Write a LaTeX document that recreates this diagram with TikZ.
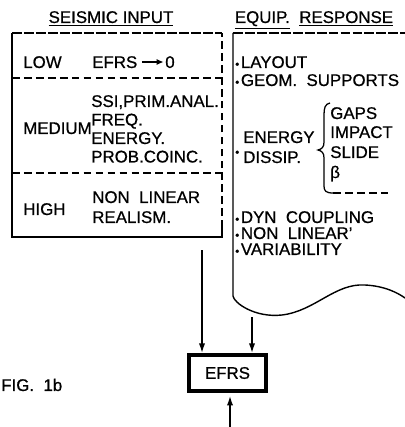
\documentclass[tikz,border=0pt]{standalone}
\usepackage{fontspec}
\setmainfont{Liberation Sans}
\newfontfamily\letterfont{Liberation Sans}[FakeBold=0.7]
\usetikzlibrary{arrows.meta}
\newcommand{\lettering}{\letterfont\fontsize{12}{13.5}\selectfont}
\newcommand{\dotmark}{{\fontsize{8}{8}\selectfont •}\kern1.2pt}
\tikzset{
  txt/.style={font=\lettering, anchor=west, inner sep=0pt, text height=8.5pt, text depth=0pt},
  frame/.style={line width=1pt},
  sep/.style={line width=0.9pt, dash pattern=on 5.5pt off 3pt},
  topline/.style={line width=1pt, dash pattern=on 7pt off 1.5pt},
  feed/.style={line width=1.2pt, -{Latex[length=7pt,width=4.5pt]}},
}
\begin{document}
\begin{tikzpicture}[x=0.025cm, y=-0.025cm]
  \useasboundingbox (0,0) rectangle (405,427);
  % titles
  \node[txt, anchor=center] (tSeis) at (111,17) {\underline{SEISMIC INPUT}};
  \node[txt, anchor=center] (tResp) at (314,17) {\underline{EQUIP.}\ \ \underline{RESPONSE}};
  % seismic input box
  \draw[topline] (12,33) -- (222,33);
  \draw[frame] (12,33) -- (12,237) -- (222,237) -- (222,228);
  \draw[sep] (222,228) -- (222,33);
  \draw[sep] (12,78) -- (222,78);
  \draw[sep] (12,173) -- (222,173);
  \node[txt] (low) at (23,62) {LOW};
  \node[txt] (efrsLow) at (92,62) {EFRS};
  \node[txt] (zero) at (165,62) {0};
  \draw[line width=1pt, -{Latex[length=5pt,width=4.5pt]}] ([xshift=3pt]efrsLow.east) -- ([xshift=-1pt]zero.west);
  \node[txt] (medium) at (23,128) {MEDIUM};
  \node[txt] (m1) at (91,101) {SSI,PRIM.ANAL.};
  \node[txt] (m2) at (91,119.5) {FREQ.};
  \node[txt] (m3) at (91,138) {ENERGY.};
  \node[txt] (m4) at (91,156.5) {PROB.COINC.};
  \node[txt] (high) at (23,209) {HIGH};
  \node[txt] (h1) at (92,197) {NON\ \ LINEAR};
  \node[txt] (h2) at (92,217) {REALISM.};
  % equipment response sheet
  \draw[topline] (233,33) -- (405,33);
  \draw[frame] (233,33) -- (233,296)
    .. controls (234,303) and (255,318) .. (282,315)
    .. controls (315,311) and (335,283) .. (365,285)
    .. controls (385,286) and (398,293) .. (405,298);
  \node[txt] (r1) at (235,62) {\dotmark LAYOUT};
  \node[txt] (r2) at (235,80) {\dotmark GEOM.\ \ SUPPORTS};
  \node[txt] (bEn) at (235,150) {\dotmark};
  \node[txt] (en1) at (243,137) {ENERGY};
  \node[txt] (en2) at (243,157) {DISSIP.};
  \draw[line width=0.9pt] (330,103) .. controls (325,104) and (324,108) .. (324,115) -- (324,142)
    .. controls (324,147) and (322,149) .. (318,150)
    .. controls (322,151) and (324,153) .. (324,158) -- (324,186)
    .. controls (324,191) and (326,193) .. (333,193);
  \draw[sep] (333,193) -- (388,193);
  \node[txt] (g1) at (330,113) {GAPS};
  \node[txt] (g2) at (330,132) {IMPACT};
  \node[txt] (g3) at (330,152) {SLIDE};
  \node[txt] (g4) at (330,172) {β};
  \node[txt] (r3) at (235,217) {\dotmark DYN\ \ COUPLING};
  \node[txt] (r4) at (235,233) {\dotmark NON\ \ LINEAR’};
  \node[txt] (r5) at (235,249) {\dotmark VARIABILITY};
  % result
  \node[draw, line width=2.6pt, minimum width=1.93cm, minimum height=0.9cm, font=\lettering, inner sep=0pt] (efrs) at (227.5,373) {EFRS};
  \coordinate (seisOut) at (202,250);
  \coordinate (respOut) at (252,317);
  \coordinate (below) at (230,427);
  \draw[feed] (seisOut) -- (seisOut |- efrs.north);
  \draw[feed] (respOut) -- (respOut |- efrs.north);
  \draw[feed] (below) -- ([yshift=-2pt]below |- efrs.south);
  \node[txt] (fig) at (1,385) {FIG.\ \ 1b};
\end{tikzpicture}
\end{document}
